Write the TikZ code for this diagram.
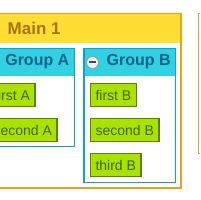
\documentclass[tikz,border=0pt]{standalone}
\usepackage{fontspec}
\setmainfont{Liberation Sans}
\definecolor{mainfill}{RGB}{255,221,51}
\definecolor{mainline}{RGB}{235,160,30}
\definecolor{maintext}{RGB}{170,115,0}
\definecolor{grpfill}{RGB}{51,208,226}
\definecolor{grpline}{RGB}{17,160,210}
\definecolor{grptext}{RGB}{10,100,140}
\definecolor{leaffill}{RGB}{170,225,0}
\definecolor{leafline}{RGB}{90,130,0}
\definecolor{leaftext}{RGB}{70,100,0}
\tikzset{
  leaf/.style={draw=leafline, line width=1.5pt, fill=leaffill, text=leaftext,
    font=\fontsize{14}{16}\selectfont, minimum height=23pt, inner xsep=5pt, inner ysep=0pt},
  grptitle/.style={text=grptext, font=\bfseries\fontsize{16}{18}\selectfont, inner sep=0pt},
  maintitle/.style={text=maintext, font=\bfseries\fontsize{17}{19}\selectfont, inner sep=0pt},
  mainbox/.style={draw=mainline, line width=1.5pt},
  grpbox/.style={draw=grpline, line width=1.5pt}
}
\begin{document}
\begin{tikzpicture}[x=1pt,y=-1pt]
\useasboundingbox (0,0) rectangle (200,200);
\clip (0,0) rectangle (200,200);
% Main 1
\fill[white] (-20,13) rectangle (181.5,188.5);
\fill[mainfill] (-20,13) rectangle (181.5,43);
\draw[mainbox] (-20,13.75) rectangle (180.75,187.75);
\node[maintitle, anchor=west] (tMain) at (7.5,28) {Main 1};
% right box
\draw[mainbox, fill=white] (198.25,13.75) rectangle (230,153.25);
% Group A
\fill[white] (-20,48) rectangle (75,147);
\fill[grpfill] (-20,48) rectangle (75,76);
\draw[grpbox] (-20,48.75) rectangle (74.25,146.25);
\node[grptitle, anchor=east] (tA) at (69.5,62) {Group A};
% Group B
\fill[white] (83,48) rectangle (176,183);
\fill[grpfill] (83,48) rectangle (176,76);
\draw[grpbox] (83.75,48.75) rectangle (175.25,182.25);
\node[circle, draw=gray!80, fill=gray!12, line width=0.8pt, minimum size=12pt, inner sep=0pt] (minusB) at (92.5,62.5) {};
\draw[black!70, line width=2pt] ([xshift=-3.5pt]minusB.center) -- ([xshift=3.5pt]minusB.center);
\node[grptitle, anchor=west] (tB) at (106.5,62) {Group B};
% leaves of A
\node[leaf, anchor=north east] (a1) at (35.75,82.75) {first A};
\node[leaf, anchor=north east] (a2) at (57.75,117.75) {second A};
% leaves of B
\node[leaf, anchor=north west] (b1) at (89.75,82.75) {first B};
\node[leaf, anchor=north west] (b2) at (89.75,117.75) {second B};
\node[leaf, anchor=north west] (b3) at (89.75,152.75) {third B};
\end{tikzpicture}
\end{document}
